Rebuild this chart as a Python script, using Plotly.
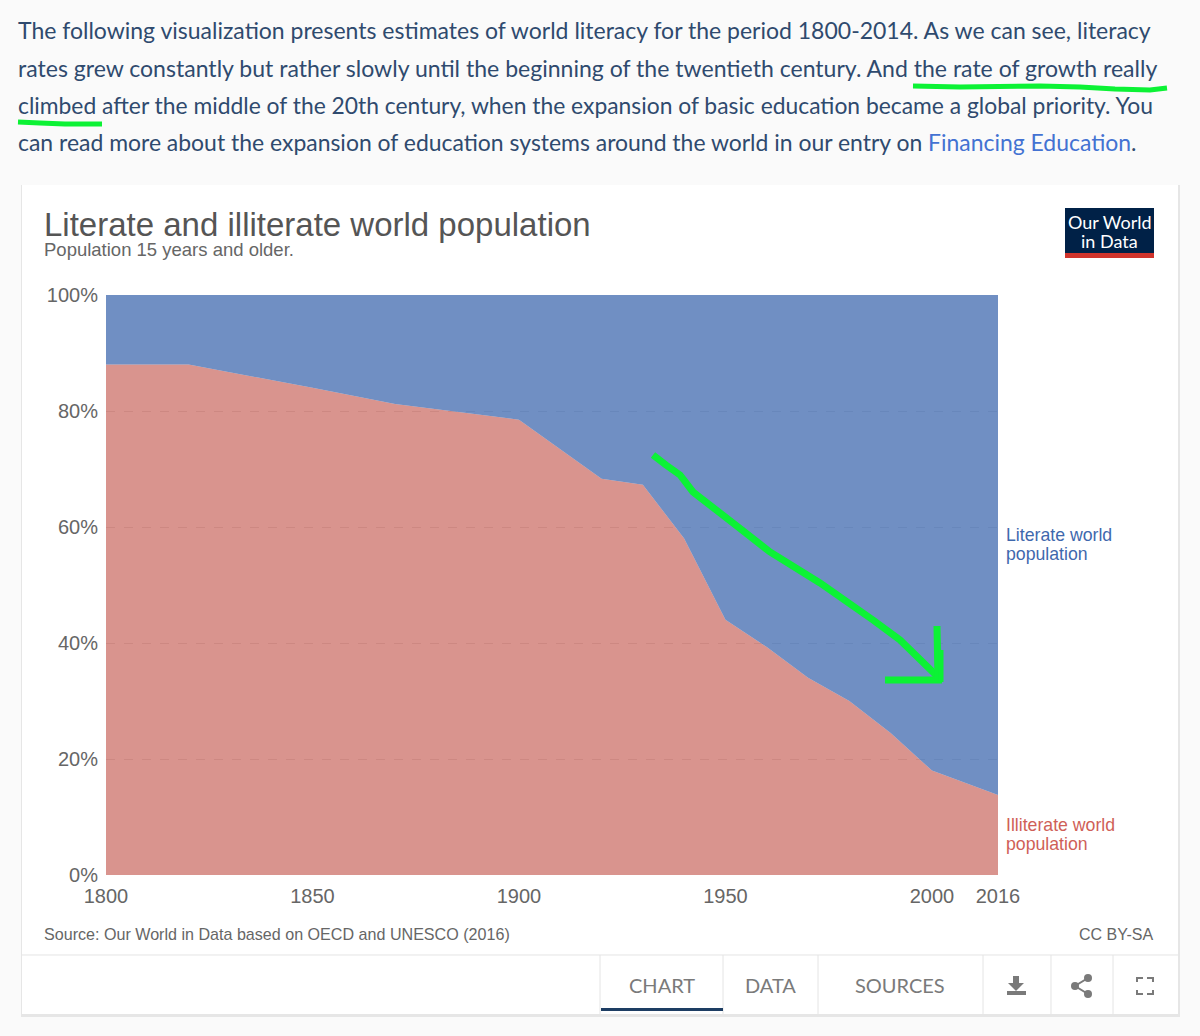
import plotly.graph_objects as go

# chart data
years = [1800, 1820, 1850, 1870, 1900, 1920, 1930, 1940, 1950, 1960, 1970, 1980, 1990, 2000, 2016]
illiterate = [88.0, 88.0, 84.0, 81.2, 78.5, 68.3, 67.3, 58.0, 44.0, 39.3, 34.0, 30.0, 24.5, 18.0, 13.8]
literate = [12.0, 12.0, 16.0, 18.8, 21.5, 31.7, 32.7, 42.0, 56.0, 60.7, 66.0, 70.0, 75.5, 82.0, 86.2]
x_ticks = [1800, 1850, 1900, 1950, 2000, 2016]
y_ticks = [0, 20, 40, 60, 80, 100]
y_labels = ["0%", "20%", "40%", "60%", "80%", "100%"]

W = 1200
H = 1036
TEXT_BLUE = "#2f4a6e"
LINK_BLUE = "#4372d2"
GREY = "#7a7a7a"
GREEN = "#0cf235"
HELV = "Liberation Sans"


def px(x):
    return x / W


def py(y):
    return 1 - y / H


def path(points, close=False):
    d = "M " + " L ".join(f"{px(x):.5f} {py(y):.5f}" for x, y in points)
    return d + (" Z" if close else "")


def rect(x0, y0, x1, y1, fill, layer="below", line=None):
    return dict(type="rect", xref="paper", yref="paper", x0=px(x0), x1=px(x1), y0=py(y0), y1=py(y1),
                fillcolor=fill, line=dict(width=0) if line is None else dict(color=line, width=1), layer=layer)


def stroke(points, color=GREEN, width=5, layer="above"):
    return dict(type="path", xref="paper", yref="paper", path=path(points),
                line=dict(color=color, width=width), layer=layer)


def blob(points, color=GREY):
    return dict(type="path", xref="paper", yref="paper", path=path(points, True),
                fillcolor=color, line=dict(width=0), layer="above")


def circle(cx, cy, r, color=GREY):
    return dict(type="circle", xref="paper", yref="paper", x0=px(cx - r), x1=px(cx + r), y0=py(cy + r), y1=py(cy - r),
                fillcolor=color, line=dict(width=0), layer="above")


def note(text, x, y, size, color, family=HELV, anchor="left"):
    return dict(text=text, xref="paper", yref="paper", x=px(x), y=py(y), xanchor=anchor, yanchor="middle",
                showarrow=False, align=anchor, font=dict(size=size, color=color, family=family),
                borderpad=0, xshift=0, yshift=0)


fig = go.Figure()
fig.add_trace(go.Scatter(x=years, y=illiterate, name="Illiterate world population", mode="lines",
                         stackgroup="one", line=dict(width=0, color="rgba(0,0,0,0)"),
                         fillcolor="rgba(186,60,50,0.55)"))
fig.add_trace(go.Scatter(x=years, y=literate, name="Literate world population", mode="lines",
                         stackgroup="one", line=dict(width=0, color="rgba(0,0,0,0)"),
                         fillcolor="rgba(51,96,169,0.7)"))

shapes = [
    # card and its shadow
    rect(21, 185, 1180, 1017, "#e6e6e6"),
    rect(22, 185, 1178, 1014, "#ffffff"),
    # footer lines
    stroke([(22, 955), (1178, 955)], "#e4e4e4", 1, "below"),
    stroke([(600, 955), (600, 1014)], "#e4e4e4", 1, "below"),
    stroke([(723, 955), (723, 1014)], "#e4e4e4", 1, "below"),
    stroke([(818, 955), (818, 1014)], "#e4e4e4", 1, "below"),
    stroke([(983, 955), (983, 1014)], "#e4e4e4", 1, "below"),
    stroke([(1051, 955), (1051, 1014)], "#e4e4e4", 1, "below"),
    stroke([(1113, 955), (1113, 1014)], "#e4e4e4", 1, "below"),
    rect(601, 1008, 723, 1011, "#1d3d63"),
    # logo
    rect(1065, 208, 1154, 254, "#002147"),
    rect(1065, 253, 1154, 258, "#d0342c"),
    # hand drawn green marks
    stroke([(913, 86), (960, 87), (1040, 86), (1080, 87), (1115, 89), (1150, 90), (1167, 88)], width=5),
    stroke([(18, 122), (40, 123), (65, 124), (102, 124)], width=5),
    stroke([(653, 455), (666, 465), (680, 475), (693, 492), (733, 523), (770, 552), (820, 583), (873, 620), (900, 640), (938, 677)], width=7),
    stroke([(885, 680), (942, 680)], width=7),
    stroke([(937, 626), (938, 680)], width=7),
    stroke([(941, 650), (941, 682)], width=5),
    # download icon
    blob([(1013, 976), (1019, 976), (1019, 983), (1024, 983), (1016, 991), (1008, 983), (1013, 983)]),
    rect(1007, 991, 1026, 995, GREY, "above"),
    # share icon
    stroke([(1088, 978), (1075, 986), (1088, 994)], GREY, 2),
    circle(1088, 978, 4),
    circle(1075, 986, 4),
    circle(1088, 994, 4),
    # fullscreen icon
    stroke([(1137, 982), (1137, 978), (1143, 978)], GREY, 2),
    stroke([(1147, 978), (1153, 978), (1153, 982)], GREY, 2),
    stroke([(1137, 990), (1137, 994), (1143, 994)], GREY, 2),
    stroke([(1147, 994), (1153, 994), (1153, 990)], GREY, 2),
]

notes = [
    note("The following visualization presents estimates of world literacy for the period 1800-2014. As we can see, literacy", 17, 30, 23, TEXT_BLUE, "Lato"),
    note("rates grew constantly but rather slowly until the beginning of the twentieth century. And the rate of growth really", 17, 68, 23.05, TEXT_BLUE, "Lato"),
    note("climbed after the middle of the 20th century, when the expansion of basic education became a global priority. You", 17, 105, 22.85, TEXT_BLUE, "Lato"),
    note(f"can read more about the expansion of education systems around the world in our entry on <span style='color:{LINK_BLUE}'>Financing Education</span>.", 17, 142, 22.95, TEXT_BLUE, "Lato"),
    note("Literate and illiterate world population", 43, 225, 33, "#555555"),
    note("Population 15 years and older.", 43, 250, 18.5, "#666666"),
    note("Our World", 1109.5, 222, 18, "#ffffff", "Lato", "center"),
    note("in Data", 1109.5, 241, 18, "#ffffff", "Lato", "center"),
    note("Literate world", 1005, 535, 17.7, "#3f68ad"),
    note("population", 1005, 554, 17.7, "#3f68ad"),
    note("Illiterate world", 1005, 825, 17.7, "#cf5f58"),
    note("population", 1005, 844, 17.7, "#cf5f58"),
    note("Source: Our World in Data based on OECD and UNESCO (2016)", 43, 934, 16.1, "#666666"),
    note("CC BY-SA", 1154, 934, 16, "#666666", anchor="right"),
    note("CHART", 661.5, 985, 20, GREY, "Lato", "center"),
    note("DATA", 770.5, 985, 20, GREY, "Lato", "center"),
    note("SOURCES", 900, 985, 20, GREY, "Lato", "center"),
]

fig.update_layout(
    width=W, height=H, autosize=False,
    margin=dict(l=0, r=0, t=0, b=0, pad=0, autoexpand=False),
    paper_bgcolor="#fafafa", plot_bgcolor="rgba(0,0,0,0)",
    showlegend=False,
    font=dict(family=HELV, size=20, color="#666666"),
    shapes=shapes, annotations=notes,
)
fig.update_xaxes(
    domain=[106 / W, 998 / W], range=[1800, 2016],
    tickvals=x_ticks, showgrid=False, zeroline=False, showline=False, ticks="outside", ticklen=3,
    tickcolor="rgba(0,0,0,0)", tickfont=dict(size=20, color="#666666"),
)
fig.update_yaxes(
    domain=[1 - 875 / H, 1 - 295 / H], range=[0, 100],
    tickvals=y_ticks, ticktext=y_labels, showgrid=True, gridcolor="#e4e4e4", griddash="dash", gridwidth=1,
    zeroline=False, showline=False, ticks="outside", ticklen=3, tickcolor="rgba(0,0,0,0)",
    tickfont=dict(size=20, color="#666666"),
)
fig.write_html("out.html", config=dict(displayModeBar=False), post_script="document.body.style.margin='0';")
